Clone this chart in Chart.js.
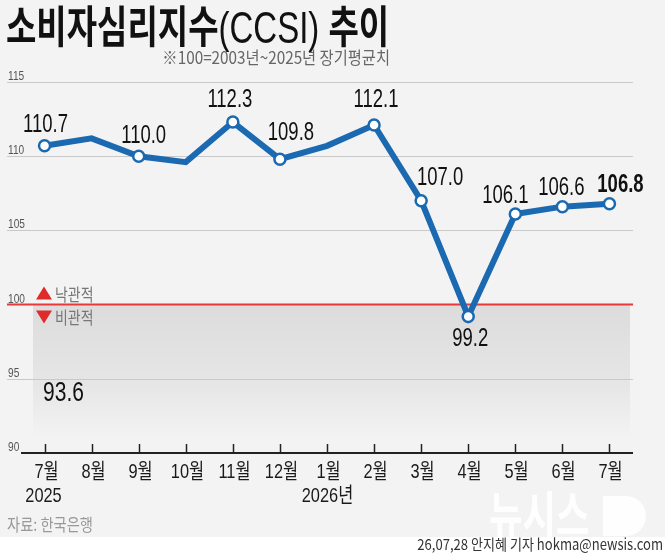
<!DOCTYPE html>
<html>
<head>
<meta charset="utf-8">
<script src="https://cdn.jsdelivr.net/npm/chart.js@4"></script>
<style>
  html, body { margin: 0; padding: 0; background: #f3f3f3; }
  #wrap { position: relative; width: 665px; height: 554px; }
</style>
</head>
<body>
<div id="wrap"><canvas id="ccsiChart" width="665" height="554"></canvas></div>
<script>
// data
const months = ["7월", "8월", "9월", "10월", "11월", "12월", "1월", "2월", "3월", "4월", "5월", "6월", "7월"];
const years = ["2025", "", "", "", "", "", "2026년", "", "", "", "", "", ""];
const ccsi = [110.7, 111.2, 110.0, 109.6, 112.3, 109.8, 110.7, 112.1, 107.0, 99.2, 106.1, 106.6, 106.8];
const valueLabels = ["110.7", "", "110.0", "", "112.3", "109.8", "", "112.1", "107.0", "99.2", "106.1", "106.6", "106.8"];
const yTicks = [90, 95, 100, 105, 110, 115];
const baseLine = 100;
const lowNote = 93.6;

// label placement relative to each point (dx, dy to text baseline)
const labelOffsets = [[1, -14], null, [5, -13], null, [-3, -15], [11, -19], null, [2, -18], [19, -16], [2, 30], [-10, -11], [-1, -12], [11, -12]];

const BLUE = "#1a69b1";
const NUM = '"Liberation Sans", "Noto Sans CJK KR", sans-serif';
const KR = '"Noto Sans CJK KR", "Liberation Sans", sans-serif';

function txt(ctx, s, x, y, font, color, align, sx) {
  ctx.save();
  ctx.font = font;
  ctx.fillStyle = color;
  ctx.textBaseline = "alphabetic";
  ctx.translate(x, y);
  ctx.scale(sx || 1, 1);
  const w = ctx.measureText(s).width;
  let ox = 0;
  if (align === "center") ox = -w / 2;
  else if (align === "right") ox = -w;
  ctx.fillText(s, ox, 0);
  ctx.restore();
}

const backdrop = {
  id: "backdrop",
  beforeDatasetsDraw(chart) {
    const { ctx, chartArea: a, scales: { y } } = chart;
    ctx.save();
    // white footer strip
    ctx.fillStyle = "#ffffff";
    ctx.fillRect(0, 537, 665, 17);

    // pessimistic zone below 100
    const y100 = y.getPixelForValue(baseLine);
    const yLow = y.getPixelForValue(91);
    const g = ctx.createLinearGradient(0, y100, 0, yLow);
    g.addColorStop(0, "#dcdcdc");
    g.addColorStop(0.6, "#e6e6e6");
    g.addColorStop(1, "#f3f3f3");
    ctx.fillStyle = g;
    ctx.fillRect(33, y100, 597, yLow - y100);

    // gridlines and y tick labels
    yTicks.forEach(v => {
      const py = Math.round(y.getPixelForValue(v)) + 0.5;
      if (v !== baseLine && v !== 90) {
        ctx.strokeStyle = "#c9c9c9";
        ctx.lineWidth = 1;
        ctx.beginPath();
        ctx.moveTo(7, py);
        ctx.lineTo(a.right, py);
        ctx.stroke();
      }
      txt(ctx, String(v), 8, py - 3, "13px " + NUM, "#555", "left", 0.78);
    });

    // red 100 line
    ctx.strokeStyle = "#e8393a";
    ctx.lineWidth = 2;
    ctx.beginPath();
    ctx.moveTo(7, y100);
    ctx.lineTo(a.right, y100);
    ctx.stroke();

    // x axis line with ticks
    const yb = y.getPixelForValue(90);
    ctx.strokeStyle = "#222";
    ctx.lineWidth = 2;
    ctx.beginPath();
    ctx.moveTo(a.left, yb);
    ctx.lineTo(a.right, yb);
    ctx.stroke();
    const xs = chart.scales.x;
    ctx.lineWidth = 1.5;
    months.forEach((m, i) => {
      const px = Math.round(xs.getPixelForValue(i)) + 0.5;
      ctx.beginPath();
      ctx.moveTo(px, yb - 9);
      ctx.lineTo(px, yb);
      ctx.stroke();
      txt(ctx, m, px + 1, yb + 25, "21px " + NUM, "#1a1a1a", "center", 0.78);
      if (years[i]) txt(ctx, years[i], px - 2 + (i ? 2 : 0), yb + 49, "21px " + NUM, "#1a1a1a", "center", 0.78);
    });

    // legend triangles
    ctx.fillStyle = "#e02b2b";
    ctx.beginPath();
    ctx.moveTo(44, y100 - 18); ctx.lineTo(52, y100 - 5); ctx.lineTo(36, y100 - 5);
    ctx.closePath(); ctx.fill();
    ctx.beginPath();
    ctx.moveTo(36, y100 + 6); ctx.lineTo(52, y100 + 6); ctx.lineTo(44, y100 + 19);
    ctx.closePath(); ctx.fill();
    txt(ctx, "낙관적", 55, y100 - 4, "17px " + KR, "#777", "left", 0.82);
    txt(ctx, "비관적", 55, y100 + 19, "17px " + KR, "#777", "left", 0.82);
    ctx.restore();
  },
  afterDatasetsDraw(chart) {
    const { ctx, scales: { x, y } } = chart;
    ctx.save();
    ccsi.forEach((v, i) => {
      if (!valueLabels[i]) return;
      const [dx, dy] = labelOffsets[i];
      const px = x.getPixelForValue(i) + dx;
      const py = y.getPixelForValue(v) + dy;
      const bold = i === ccsi.length - 1;
      txt(ctx, valueLabels[i], px, py, (bold ? "bold " : "") + "25px " + NUM, "#111", "center", 0.74);
    });
    txt(ctx, lowNote.toFixed(1), x.getPixelForValue(0) + 19, y.getPixelForValue(lowNote) + 1, "28px " + NUM, "#111", "center", 0.75);

    // title
    ctx.save();
    ctx.translate(6, 43);
    ctx.scale(0.75, 1);
    ctx.fillStyle = "#111";
    let cx = 0;
    const part = (s, f) => { ctx.font = f; ctx.fillText(s, cx, 0); cx += ctx.measureText(s).width; };
    part("소비자심리지수", "bold 44px " + KR);
    part("(CCSI) ", "44px " + NUM);
    part("추이", "bold 44px " + KR);
    ctx.restore();
    txt(ctx, "※100=2003년~2025년 장기평균치", 390, 64, "17px " + KR, "#666", "right", 0.9);

    // source and credit
    txt(ctx, "자료: 한국은행", 7, 531, "17px " + KR, "#999", "left", 0.84);

    // watermark
    ctx.save();
    ctx.globalAlpha = 0.9;
    ctx.fillStyle = "#ffffff";
    txt(ctx, "뉴시스", 489, 535, "bold 52px " + KR, "#ffffff", "left", 0.7);
    ctx.beginPath();
    ctx.moveTo(603, 496);
    ctx.lineTo(626, 496);
    ctx.arc(626, 516, 20, -Math.PI / 2, Math.PI / 2);
    ctx.lineTo(603, 536);
    ctx.closePath();
    ctx.fill();
    ctx.restore();

    txt(ctx, "26,07,28 안지혜 기자 hokma@newsis.com", 663, 550, "15px " + KR, "#333", "right", 0.87);
    ctx.restore();
  }
};

new Chart(document.getElementById("ccsiChart"), {
  type: "line",
  data: {
    labels: months,
    datasets: [{
      label: "CCSI",
      data: ccsi,
      borderColor: BLUE,
      borderWidth: 6,
      borderJoinStyle: "miter",
      tension: 0,
      pointRadius: valueLabels.map(s => s ? 5.5 : 0),
      pointHoverRadius: valueLabels.map(s => s ? 5.5 : 0),
      pointBackgroundColor: "#ffffff",
      pointBorderColor: BLUE,
      pointBorderWidth: 2.5
    }]
  },
  options: {
    responsive: false,
    devicePixelRatio: 1,
    animation: false,
    events: [],
    layout: { padding: { left: 21, right: 32, top: 82, bottom: 101 } },
    plugins: { legend: { display: false }, tooltip: { enabled: false } },
    scales: {
      x: { display: false, offset: true },
      y: { display: false, min: 90, max: 115 }
    }
  },
  plugins: [backdrop]
});
</script>
</body>
</html>
